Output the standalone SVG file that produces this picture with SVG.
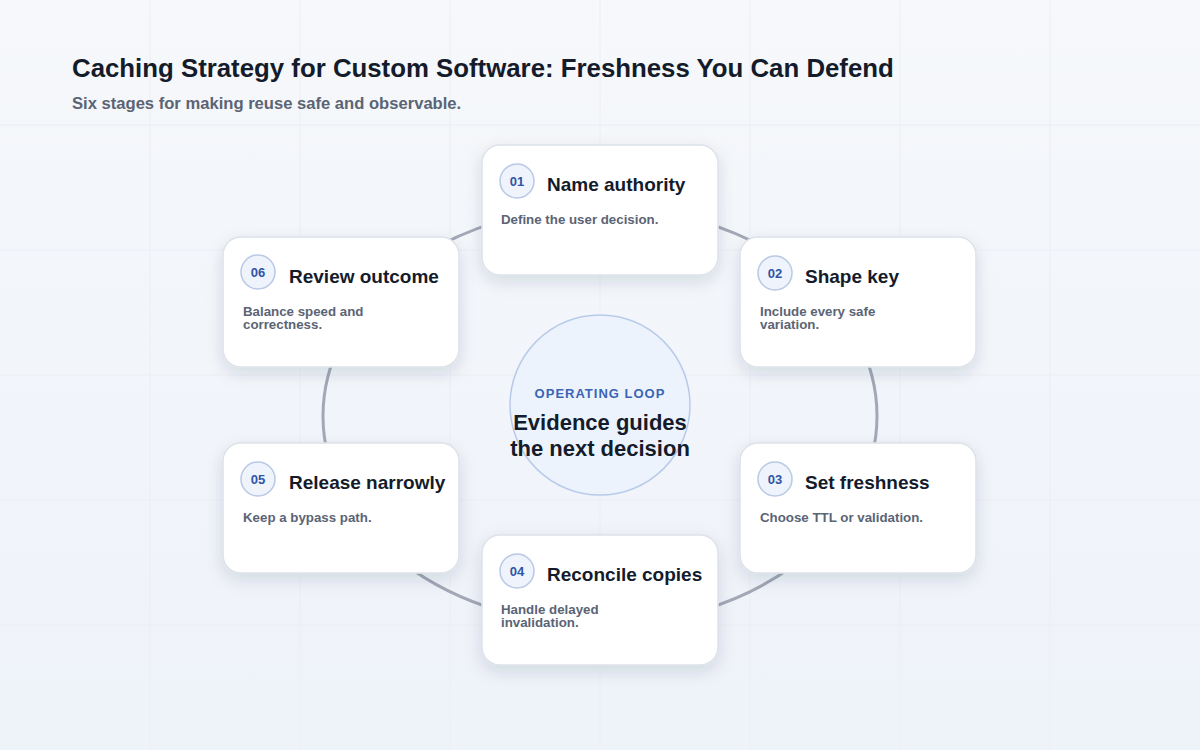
<svg xmlns="http://www.w3.org/2000/svg" width="1200" height="750" viewBox="0 0 1200 750">
<defs>
<linearGradient id="bg" x1="0" y1="0" x2="0" y2="1">
<stop offset="0" stop-color="#f6f8fb"/>
<stop offset="1" stop-color="#eef2f9"/>
</linearGradient>
<filter id="shadow" x="-20%" y="-20%" width="140%" height="150%">
<feDropShadow dx="0" dy="6" stdDeviation="8" flood-color="#1e2a45" flood-opacity="0.13"/>
</filter>
<style>
.grid{stroke:#ebeef4;stroke-width:1}
.card{fill:#ffffff;stroke:#dde2ea;stroke-width:1.5;filter:url(#shadow)}
.badge{fill:#eef3fc;stroke:#b9c9e6;stroke-width:1.5}
.num{font-family:"Liberation Sans",Arial,sans-serif;font-weight:bold;font-size:13px;fill:#2f55a4;text-anchor:middle}
.ttl{font-family:"Liberation Sans",Arial,sans-serif;font-weight:bold;font-size:19px;fill:#141b2b}
.desc{font-family:"Liberation Sans",Arial,sans-serif;font-weight:bold;font-size:13.3px;fill:#5b6475}
</style>
</defs>
<rect width="1200" height="750" fill="url(#bg)"/>
<g id="grid">
<line class="grid" x1="150" y1="0" x2="150" y2="750"/>
<line class="grid" x1="300" y1="0" x2="300" y2="750"/>
<line class="grid" x1="450" y1="0" x2="450" y2="750"/>
<line class="grid" x1="600" y1="0" x2="600" y2="750"/>
<line class="grid" x1="750" y1="0" x2="750" y2="750"/>
<line class="grid" x1="900" y1="0" x2="900" y2="750"/>
<line class="grid" x1="1050" y1="0" x2="1050" y2="750"/>
<line class="grid" x1="0" y1="125" x2="1200" y2="125"/>
<line class="grid" x1="0" y1="250" x2="1200" y2="250"/>
<line class="grid" x1="0" y1="375" x2="1200" y2="375"/>
<line class="grid" x1="0" y1="500" x2="1200" y2="500"/>
<line class="grid" x1="0" y1="625" x2="1200" y2="625"/>
</g>
<g id="header">
<text x="72" y="77" font-family="Liberation Sans, Arial, sans-serif" font-weight="bold" font-size="25.8" fill="#141b2b">Caching Strategy for Custom Software: Freshness You Can Defend</text>
<text x="72" y="109" font-family="Liberation Sans, Arial, sans-serif" font-weight="bold" font-size="16.6" fill="#5b6475">Six stages for making reuse safe and observable.</text>
</g>
<g id="connectors">
<ellipse cx="600" cy="416" rx="277" ry="209" fill="none" stroke="#a2a8b5" stroke-width="3"/>
</g>
<g id="center">
<circle cx="600" cy="405" r="90" fill="#edf3fc" stroke="#b9cbea" stroke-width="1.5"/>
<text x="600" y="398" text-anchor="middle" font-family="Liberation Sans, Arial, sans-serif" font-weight="bold" font-size="13" letter-spacing="1" fill="#3a64b5">OPERATING LOOP</text>
<text x="600" y="430" text-anchor="middle" font-family="Liberation Sans, Arial, sans-serif" font-weight="bold" font-size="22" fill="#141b2b">Evidence guides</text>
<text x="600" y="456" text-anchor="middle" font-family="Liberation Sans, Arial, sans-serif" font-weight="bold" font-size="22" fill="#141b2b">the next decision</text>
</g>
<g id="node-01">
<rect class="card" x="482" y="145" width="236" height="130" rx="18"/>
<circle class="badge" cx="517" cy="181" r="17"/>
<text class="num" x="517" y="186">01</text>
<text class="ttl" x="547" y="191">Name authority</text>
<text class="desc" x="501" y="224">Define the user decision.</text>
</g>
<g id="node-02">
<rect class="card" x="740" y="237" width="236" height="130" rx="18"/>
<circle class="badge" cx="775" cy="273" r="17"/>
<text class="num" x="775" y="278">02</text>
<text class="ttl" x="805" y="283">Shape key</text>
<text class="desc" x="760" y="316">Include every safe</text>
<text class="desc" x="760" y="329">variation.</text>
</g>
<g id="node-03">
<rect class="card" x="740" y="443" width="236" height="130" rx="18"/>
<circle class="badge" cx="775" cy="479" r="17"/>
<text class="num" x="775" y="484">03</text>
<text class="ttl" x="805" y="489">Set freshness</text>
<text class="desc" x="760" y="522">Choose TTL or validation.</text>
</g>
<g id="node-04">
<rect class="card" x="482" y="535" width="236" height="130" rx="18"/>
<circle class="badge" cx="517" cy="571" r="17"/>
<text class="num" x="517" y="576">04</text>
<text class="ttl" x="547" y="581">Reconcile copies</text>
<text class="desc" x="501" y="614">Handle delayed</text>
<text class="desc" x="501" y="627">invalidation.</text>
</g>
<g id="node-05">
<rect class="card" x="223" y="443" width="236" height="130" rx="18"/>
<circle class="badge" cx="258" cy="479" r="17"/>
<text class="num" x="258" y="484">05</text>
<text class="ttl" x="289" y="489">Release narrowly</text>
<text class="desc" x="243" y="522">Keep a bypass path.</text>
</g>
<g id="node-06">
<rect class="card" x="223" y="237" width="236" height="130" rx="18"/>
<circle class="badge" cx="258" cy="272" r="17"/>
<text class="num" x="258" y="277">06</text>
<text class="ttl" x="289" y="283">Review outcome</text>
<text class="desc" x="243" y="316">Balance speed and</text>
<text class="desc" x="243" y="329">correctness.</text>
</g>
</svg>
